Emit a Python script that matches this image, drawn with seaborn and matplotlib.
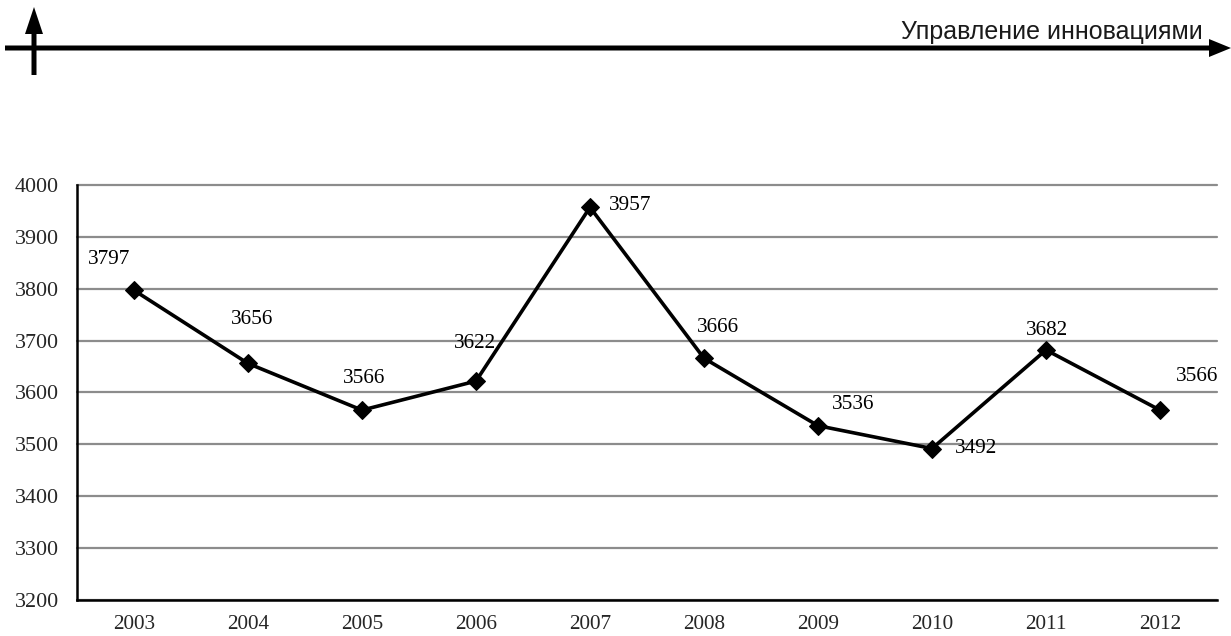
import numpy as np
import pandas as pd
import matplotlib
matplotlib.use("Agg")
import matplotlib.pyplot as plt
import seaborn as sns
from matplotlib.patches import FancyArrow

# Data
years = ["2003", "2004", "2005", "2006", "2007", "2008", "2009", "2010", "2011", "2012"]
values = [3797, 3656, 3566, 3622, 3957, 3666, 3536, 3492, 3682, 3566]
y_ticks = [3200, 3300, 3400, 3500, 3600, 3700, 3800, 3900, 4000]
header = "Управление инновациями"

# Label offsets (points) for each value annotation
label_offsets = [(-18, 22), (3, 32), (1.5, 23), (-1, 27), (29, 1.5),
                 (10, 22), (25, 15), (32, 0), (1, 14), (27, 24)]

sns.set_theme(style="white")
plt.rcParams["font.family"] = ["Liberation Serif", "DejaVu Serif"]

df = pd.DataFrame({"pos": np.arange(len(years)), "value": values})

fig = plt.figure(figsize=(12.31, 6.36), dpi=100)
ax = fig.add_axes([77 / 1231, 36 / 636, (1217 - 77) / 1231, (600 - 185) / 636])

sns.lineplot(data=df, x="pos", y="value", ax=ax, color="black", linewidth=2.6,
             marker="D", markersize=9, markeredgecolor="black", markerfacecolor="black",
             zorder=3)

ax.set_xlim(-0.5, len(years) - 0.5)
ax.set_ylim(y_ticks[0], y_ticks[-1])
ax.set_yticks(y_ticks)
ax.set_yticklabels([str(t) for t in y_ticks], fontsize=15.8)
ax.set_xticks(np.arange(len(years)))
ax.set_xticklabels(years, fontsize=15.3)
ax.set_xticks(np.arange(len(years) + 1) - 0.5, minor=True)
ax.tick_params(axis="x", which="major", length=0, pad=11)
ax.tick_params(axis="x", which="minor", length=5, width=1.5, color="black", direction="out")
ax.tick_params(axis="y", which="major", length=5, width=1.5, color="black", direction="out", pad=8)
ax.set_xlabel("")
ax.set_ylabel("")

ax.grid(axis="y", color="#8c8c8c", linewidth=1.6)
ax.grid(axis="x", visible=False)
for gl in ax.get_ygridlines():
    gl.set_clip_on(False)
ax.set_axisbelow(True)
for side in ["top", "right"]:
    ax.spines[side].set_visible(False)
for side in ["left", "bottom"]:
    ax.spines[side].set_color("black")
    ax.spines[side].set_linewidth(1.8)

for i, (v, off) in enumerate(zip(values, label_offsets)):
    ax.annotate(str(v), (i, v), xytext=off, textcoords="offset points",
                ha="center", va="center", fontsize=15.3, color="black")

# Header band with arrows, drawn in pixel coordinates
hdr = fig.add_axes([0, 0, 1, 1], zorder=5)
hdr.set_xlim(0, 1231)
hdr.set_ylim(636, 0)
hdr.axis("off")
hdr.patch.set_alpha(0)
hdr.add_patch(FancyArrow(5, 48, 1226, 0, width=5, head_width=18, head_length=22,
                         length_includes_head=True, color="black", lw=0))
hdr.add_patch(FancyArrow(34, 75, 0, -68, width=5, head_width=18, head_length=27,
                         length_includes_head=True, color="black", lw=0))
hdr.text(1203, 39, header, ha="right", va="baseline", fontsize=18,
         color="#1a1a1a", family=["Liberation Sans", "DejaVu Sans"])

fig.savefig("out.png", dpi=100)
